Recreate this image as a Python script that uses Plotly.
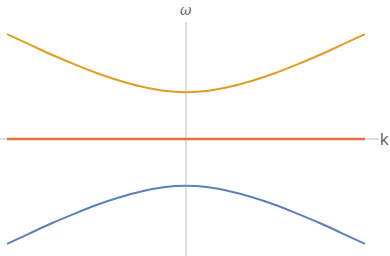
import plotly.graph_objects as go

k = [-2.0, -1.75, -1.5, -1.25, -1.0, -0.75, -0.5, -0.25, 0.0,
     0.25, 0.5, 0.75, 1.0, 1.25, 1.5, 1.75, 2.0]
omega_upper = [2.24, 2.02, 1.80, 1.60, 1.41, 1.25, 1.12, 1.03, 1.00,
               1.03, 1.12, 1.25, 1.41, 1.60, 1.80, 2.02, 2.24]
omega_lower = [-2.24, -2.02, -1.80, -1.60, -1.41, -1.25, -1.12, -1.03, -1.00,
               -1.03, -1.12, -1.25, -1.41, -1.60, -1.80, -2.02, -2.24]
omega_flat = [0.0] * len(k)

fig = go.Figure()
fig.add_trace(go.Scatter(x=k, y=omega_lower, mode="lines",
                         line=dict(color="#5E81B5", width=2, shape="spline")))
fig.add_trace(go.Scatter(x=k, y=omega_upper, mode="lines",
                         line=dict(color="#E19C24", width=2, shape="spline")))
fig.add_trace(go.Scatter(x=k, y=omega_flat, mode="lines",
                         line=dict(color="#E0703F", width=2.5)))

px_x = 89.5
px_y = 46.8
x0 = -2 - 7 / px_x
x1 = -2 + 383 / px_x
y1 = 139 / px_y
y0 = -117 / px_y

axis_color = "#bdbdbd"
fig.add_shape(type="line", x0=x0, x1=-2 + 372 / px_x, y0=0, y1=0,
              line=dict(color=axis_color, width=1), layer="below")
fig.add_shape(type="line", x0=0, x1=0, y0=y0, y1=(139 - 22) / px_y,
              line=dict(color=axis_color, width=1), layer="below")

fig.add_annotation(x=0, y=(139 - 10) / px_y, text="<i>ω</i>", showarrow=False,
                   font=dict(family="DejaVu Serif", size=14, color="#666666"))
fig.add_annotation(xref="paper", x=384 / 390, y=0, text="k", showarrow=False,
                   xanchor="center", borderpad=0,
                   font=dict(family="Liberation Sans", size=17, color="#6a6a6a"))

fig.update_layout(
    width=390, height=256,
    margin=dict(l=0, r=0, t=0, b=0),
    paper_bgcolor="white", plot_bgcolor="white",
    showlegend=False,
    xaxis=dict(range=[x0, x1], visible=False, fixedrange=True),
    yaxis=dict(range=[y0, y1], visible=False, fixedrange=True),
)

fig.write_html("out.html", config={"displayModeBar": False},
               post_script="document.body.style.margin='0';document.body.style.overflow='hidden';")
